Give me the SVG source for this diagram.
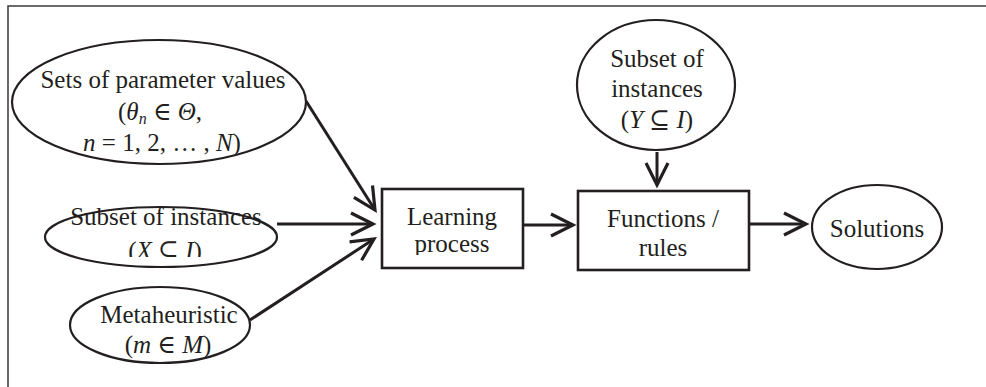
<svg xmlns="http://www.w3.org/2000/svg" width="986" height="387" viewBox="0 0 986 387">
<style>
.frame{fill:none;stroke:#3a3a3a;stroke-width:1.5}
.shape{fill:#fff;stroke:#231f20;stroke-width:2.2}
.box{fill:#fff;stroke:#231f20;stroke-width:2.6}
.conn{fill:none;stroke:#231f20;stroke-width:3}
.t{font-family:"Liberation Serif","DejaVu Serif",serif;font-size:25px;fill:#231f20;text-anchor:middle}
.i{font-style:italic}
</style>
<defs>
<marker id="arr" markerUnits="userSpaceOnUse" markerWidth="30" markerHeight="30" viewBox="-26 -15 30 30" refX="0" refY="0" orient="auto">
<path d="M-22,-11 L0,0 L-22,11" fill="none" stroke="#231f20" stroke-width="3.2" stroke-linejoin="miter"/>
</marker>
<clipPath id="clipX"><rect x="0" y="0" width="400" height="257"/></clipPath>
<clipPath id="clipL"><rect x="380" y="180" width="150" height="75"/></clipPath>
</defs>
<path class="frame" d="M8,387 L8,6 L986,6"/>
<g id="connectors">
<line class="conn" x1="306" y1="101" x2="375" y2="210" marker-end="url(#arr)"/>
<line class="conn" x1="277" y1="224" x2="373" y2="224" marker-end="url(#arr)"/>
<line class="conn" x1="250" y1="320" x2="374" y2="239" marker-end="url(#arr)"/>
<line class="conn" x1="523" y1="225" x2="573" y2="225" marker-end="url(#arr)"/>
<line class="conn" x1="749" y1="224" x2="806" y2="224" marker-end="url(#arr)"/>
<line class="conn" x1="657" y1="152" x2="657" y2="185" marker-end="url(#arr)"/>
</g>
<g id="params">
<ellipse class="shape" cx="159" cy="102" rx="147" ry="62"/>
<text class="t" x="163" y="88">Sets of parameter values</text>
<text class="t" x="160" y="120">(<tspan class="i">θ</tspan><tspan class="i" font-size="16" dy="4">n</tspan><tspan dy="-4"> ∈ </tspan><tspan class="i">Θ</tspan>,</text>
<text class="t" x="162" y="151"><tspan class="i">n</tspan> = 1, 2, … , <tspan class="i">N</tspan>)</text>
</g>
<g id="subsetX">
<ellipse class="shape" cx="161" cy="237" rx="116" ry="30"/>
<text class="t" x="166" y="225">Subset of instances</text>
<text class="t" x="165" y="259" clip-path="url(#clipX)">(<tspan class="i">X</tspan> ⊆ <tspan class="i">I</tspan>)</text>
</g>
<g id="meta">
<ellipse class="shape" cx="160" cy="325" rx="90" ry="38"/>
<text class="t" x="169" y="323">Metaheuristic</text>
<text class="t" x="168" y="353">(<tspan class="i">m</tspan> ∈ <tspan class="i">M</tspan>)</text>
</g>
<g id="learning">
<rect class="box" x="382" y="189" width="141" height="79"/>
<text class="t" x="452" y="225">Learning</text>
<text class="t" x="452" y="252" clip-path="url(#clipL)">process</text>
</g>
<g id="subsetY">
<ellipse class="shape" cx="656" cy="85" rx="79" ry="65"/>
<text class="t" x="657" y="67">Subset of</text>
<text class="t" x="657" y="97">instances</text>
<text class="t" x="657" y="128">(<tspan class="i">Y</tspan> ⊆ <tspan class="i">I</tspan>)</text>
</g>
<g id="functions">
<rect class="box" x="578" y="191" width="171" height="79"/>
<text class="t" x="663" y="227">Functions /</text>
<text class="t" x="663" y="256">rules</text>
</g>
<g id="solutions">
<ellipse class="shape" cx="877" cy="227" rx="65" ry="42"/>
<text class="t" x="877" y="237">Solutions</text>
</g>
</svg>
